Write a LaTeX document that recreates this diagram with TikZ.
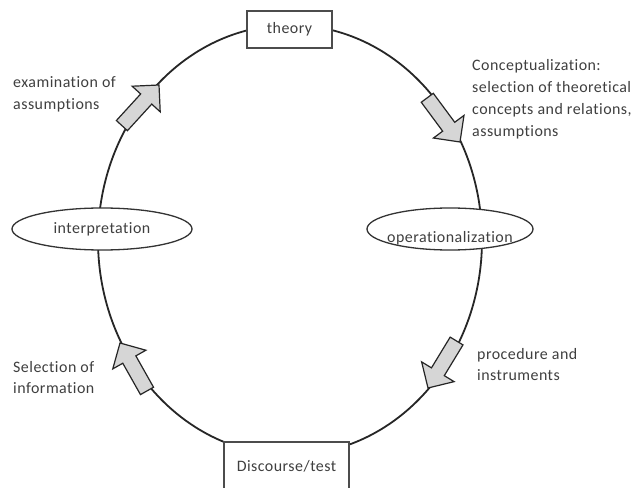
\documentclass[tikz,border=0pt]{standalone}
\usepackage{fontspec}
\setmainfont{Carlito}[Ligatures=NoCommon, LetterSpace=3]
\usetikzlibrary{shapes.geometric}
\definecolor{txt}{HTML}{3F3F3F}
\definecolor{arrowfill}{HTML}{D6D6D6}
\begin{document}
\begin{tikzpicture}[x=1bp,y=-1bp,
  font=\fontsize{16}{22}\selectfont,
  ringline/.style={draw=black!85, line width=1.8bp},
  stage/.style={draw=black!70, line width=1.3bp, fill=white, text=txt, inner sep=0pt},
  phase/.style={ellipse, draw=black!80, line width=1.3bp, fill=white, text=txt, inner sep=0pt},
  note/.style={text=txt, align=left, anchor=west, inner sep=0pt},
  flow/.pic={\draw[line width=1.2bp, draw=black!85, fill=arrowfill, line join=miter]
    (0,0) -- (-19,19) -- (-19,7.5) -- (-55,7.5) -- (-55,-7.5) -- (-19,-7.5) -- (-19,-19) -- cycle;}
]
\clip (0,0) rectangle (634,488);
\fill[white] (0,0) rectangle (634,488);

% the research cycle
\node[ellipse, ringline, minimum width=384bp, minimum height=430bp, inner sep=0pt] (ring) at (290,240) {};

% stages on the cycle
\node[stage, minimum width=85bp, minimum height=37bp] (theory) at (289.5,29.5) {theory};
\node[stage, minimum width=125bp, minimum height=50bp] (test) at (286.5,467) {\raisebox{1.5bp}{Discourse/test}};
\node[phase, minimum width=180bp, minimum height=42bp] (interp) at (102,229) {interpretation};
\node[phase, minimum width=166bp, minimum height=42bp] (oper) at (450,229)
  {\makebox[0pt]{\raisebox{-14bp}[0pt][0pt]{operationalization}}};

% direction of the cycle
\pic[rotate=47.6] (up1) at (159,85) {flow};
\pic[rotate=-53.5] (down1) at (460,142) {flow};
\pic[rotate=-121.3] (down2) at (428,388) {flow};
\pic[rotate=119.4] (up2) at (120,343) {flow};

% step descriptions
\node[note] (examine) at (13,94) {examination of\\assumptions};
\node[note] (concept) at (472,99) {Conceptualization:\\selection of theoretical\\concepts and relations,\\assumptions};
\node[note] (proc) at (477,364.5) {procedure and\\instruments};
\node[note] (select) at (13,377.5) {Selection of\\information};
\end{tikzpicture}
\end{document}
